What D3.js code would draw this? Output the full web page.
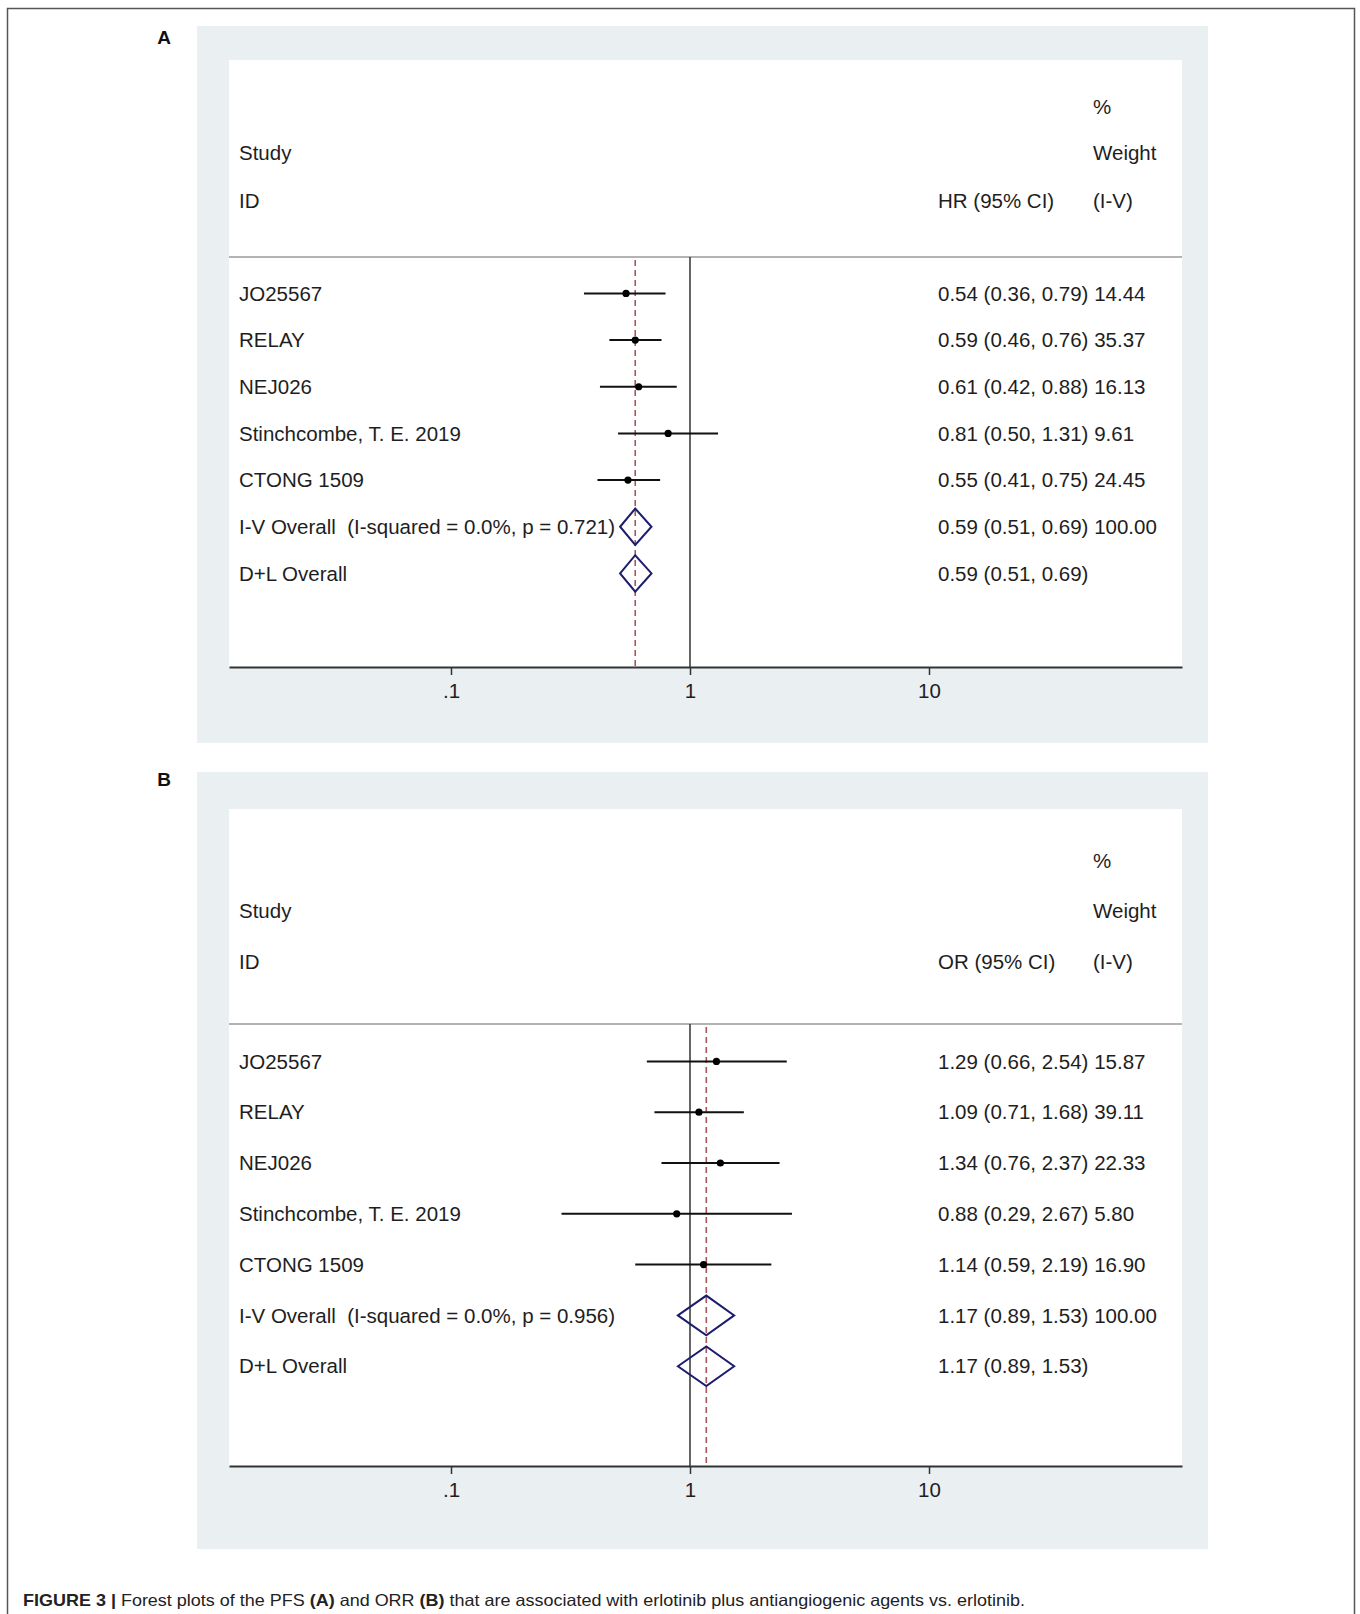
<!DOCTYPE html>
<html>
<head>
<meta charset="utf-8">
<script src="https://cdn.jsdelivr.net/npm/d3@7"></script>
<style>
  html, body { margin: 0; padding: 0; background: #fff; }
  svg { display: block; font-family: "Liberation Sans", Arial, Helvetica, sans-serif; }
  text { white-space: pre; }
</style>
</head>
<body>
<svg id="fig" width="1360" height="1614"></svg>
<script>
// Study labels shared by both meta-analyses
const studies = ["JO25567", "RELAY", "NEJ026", "Stinchcombe, T. E. 2019", "CTONG 1509"];

// PFS: hazard ratios with 95% CI and inverse-variance weights
const pfsEst  = [0.54, 0.59, 0.61, 0.81, 0.55];
const pfsLow  = [0.36, 0.46, 0.42, 0.50, 0.41];
const pfsHigh = [0.79, 0.76, 0.88, 1.31, 0.75];
const pfsWeight = [14.44, 35.37, 16.13, 9.61, 24.45];
const pfsOverall = [0.59, 0.51, 0.69];   // estimate, low, high (I-V and D+L identical)
const pfsHet = "I-V Overall  (I-squared = 0.0%, p = 0.721)";

// ORR: odds ratios with 95% CI and inverse-variance weights
const orrEst  = [1.29, 1.09, 1.34, 0.88, 1.14];
const orrLow  = [0.66, 0.71, 0.76, 0.29, 0.59];
const orrHigh = [2.54, 1.68, 2.37, 2.67, 2.19];
const orrWeight = [15.87, 39.11, 22.33, 5.80, 16.90];
const orrOverall = [1.17, 0.89, 1.53];
const orrHet = "I-V Overall  (I-squared = 0.0%, p = 0.956)";

// Axis ticks
const tickValues = [0.1, 1, 10];
const tickLabels = [".1", "1", "10"];

const svg = d3.select("#fig");
const f2 = d3.format(".2f");
const ink = "#1e1e1e";

// outer frame
svg.append("rect").attr("x", 7.5).attr("y", 8.5).attr("width", 1347).attr("height", 1620)
  .attr("fill", "none").attr("stroke", "#555").attr("stroke-width", 1.5);

function drawPanel(o) {
  const g = svg.append("g");
  // panel background and plot area
  g.append("rect").attr("x", 197).attr("y", o.bgTop).attr("width", 1011).attr("height", o.bgBottom - o.bgTop)
    .attr("fill", "#eaeff2");
  g.append("rect").attr("x", 229).attr("y", o.plotTop).attr("width", 953).attr("height", o.axisY - o.plotTop)
    .attr("fill", "#fff");

  g.append("text").attr("x", 164).attr("y", o.letterY).attr("dy", "0.35em")
    .attr("text-anchor", "middle").attr("font-weight", "bold").attr("font-size", 19)
    .attr("fill", "#111").text(o.letter);

  // log x scale: decade ticks at fixed positions, extended to the plot edges
  const x = d3.scaleLog().domain([0.1, 10]).range([451, 929]);
  x.domain([x.invert(229), x.invert(1182)]).range([229, 1182]);

  const n = o.labels.length;
  const y = d3.scaleLinear().domain([0, 1]).range([o.row0, o.row0 + o.rowStep]);

  // header
  const hdr = g.append("g").attr("font-size", 20.5).attr("fill", ink);
  const hText = (tx, ty, s) => hdr.append("text").attr("x", tx).attr("y", ty).attr("dy", "0.35em").text(s);
  hText(1093, o.h1, "%");
  hText(239, o.h2, "Study");
  hText(1093, o.h2, "Weight");
  hText(239, o.h3, "ID");
  hText(938, o.h3, o.measure + " (95% CI)");
  hText(1093, o.h3, "(I-V)");

  g.append("line").attr("x1", 229).attr("x2", 1182).attr("y1", o.sepY).attr("y2", o.sepY)
    .attr("stroke", "#9a9a9a").attr("stroke-width", 1.5);

  // null line and overall-effect line
  g.append("line").attr("x1", x(1)).attr("x2", x(1)).attr("y1", o.sepY).attr("y2", o.axisY)
    .attr("stroke", "#333").attr("stroke-width", 1.5);
  g.append("line").attr("x1", x(o.overall[0])).attr("x2", x(o.overall[0]))
    .attr("y1", o.sepY + 3).attr("y2", o.axisY)
    .attr("stroke", "#a8555c").attr("stroke-width", 1.6).attr("stroke-dasharray", "6,4");

  // study rows
  const rows = d3.range(n).map(i => ({
    label: o.labels[i], est: o.est[i], lo: o.low[i], hi: o.high[i], w: o.weight[i]
  }));
  const rg = g.selectAll("g.row").data(rows).join("g").attr("class", "row");
  rg.append("line").attr("x1", d => x(d.lo)).attr("x2", d => x(d.hi))
    .attr("y1", (d, i) => y(i)).attr("y2", (d, i) => y(i))
    .attr("stroke", "#111").attr("stroke-width", 2);
  rg.append("circle").attr("cx", d => x(d.est)).attr("cy", (d, i) => y(i)).attr("r", 3.6).attr("fill", "#000");
  rg.append("text").attr("x", 239).attr("y", (d, i) => y(i)).attr("dy", "0.35em")
    .attr("font-size", 20.5).attr("fill", ink).text(d => d.label);
  rg.append("text").attr("x", 938).attr("y", (d, i) => y(i)).attr("dy", "0.35em")
    .attr("font-size", 20.5).attr("fill", ink)
    .text(d => `${f2(d.est)} (${f2(d.lo)}, ${f2(d.hi)}) ${f2(d.w)}`);

  // pooled estimates
  const pooled = [
    { label: o.het, w: "100.00" },
    { label: "D+L Overall", w: null }
  ];
  const [pe, pl, ph] = o.overall;
  const hh = o.rowStep * 0.39;
  pooled.forEach((p, k) => {
    const yy = y(n + k);
    g.append("path")
      .attr("d", `M${x(pl)},${yy} L${x(pe)},${yy - hh} L${x(ph)},${yy} L${x(pe)},${yy + hh} Z`)
      .attr("fill", "none").attr("stroke", "#1d1d6e").attr("stroke-width", 2);
    g.append("text").attr("x", 239).attr("y", yy).attr("dy", "0.35em")
      .attr("font-size", 20.5).attr("fill", ink).text(p.label);
    g.append("text").attr("x", 938).attr("y", yy).attr("dy", "0.35em")
      .attr("font-size", 20.5).attr("fill", ink)
      .text(`${f2(pe)} (${f2(pl)}, ${f2(ph)})` + (p.w ? ` ${p.w}` : ""));
  });

  // x axis
  const axis = d3.axisBottom(x).tickValues(tickValues)
    .tickFormat((d, i) => tickLabels[i]).tickSize(8).tickSizeOuter(0).tickPadding(8);
  const ag = g.append("g").attr("transform", `translate(0,${o.axisY})`).call(axis);
  ag.select(".domain").attr("stroke", "#333").attr("stroke-width", 2);
  ag.selectAll(".tick line").attr("stroke", "#333").attr("stroke-width", 1.5);
  ag.selectAll(".tick text").attr("font-size", 20.5).attr("fill", ink)
    .attr("font-family", "\"Liberation Sans\", Arial, sans-serif");
}

drawPanel({
  letter: "A", letterY: 37, bgTop: 26, bgBottom: 743, plotTop: 60, axisY: 667,
  sepY: 257, h1: 107, h2: 153, h3: 201, row0: 293.4, rowStep: 46.67,
  measure: "HR", labels: studies, est: pfsEst, low: pfsLow, high: pfsHigh,
  weight: pfsWeight, overall: pfsOverall, het: pfsHet
});

drawPanel({
  letter: "B", letterY: 779, bgTop: 772, bgBottom: 1549, plotTop: 809, axisY: 1466,
  sepY: 1024, h1: 861, h2: 911, h3: 962, row0: 1061.4, rowStep: 50.8,
  measure: "OR", labels: studies, est: orrEst, low: orrLow, high: orrHigh,
  weight: orrWeight, overall: orrOverall, het: orrHet
});

// caption
const cap = svg.append("text").attr("x", 23).attr("y", 1606).attr("font-size", 16.5).attr("fill", "#222")
  .attr("textLength", 1002).attr("lengthAdjust", "spacingAndGlyphs");
cap.append("tspan").attr("font-weight", "bold").text("FIGURE 3 | ");
cap.append("tspan").text("Forest plots of the PFS ");
cap.append("tspan").attr("font-weight", "bold").text("(A)");
cap.append("tspan").text(" and ORR ");
cap.append("tspan").attr("font-weight", "bold").text("(B)");
cap.append("tspan").text(" that are associated with erlotinib plus antiangiogenic agents vs. erlotinib.");
</script>
</body>
</html>
